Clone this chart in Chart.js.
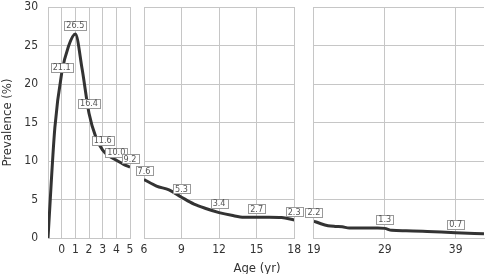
<!DOCTYPE html>
<html>
<head>
<meta charset="utf-8">
<script src="https://cdn.jsdelivr.net/npm/chart.js@4"></script>
<style>
  body { margin: 0; background: #fff; }
  #wrap { position: relative; width: 489px; height: 274px; overflow: hidden; }
  canvas { position: absolute; top: 0; }
  #xtitle { position: absolute; left: 207px; top: 260px; width: 100px; text-align: center;
    font: 13px "Liberation Sans Narrow", "Arial Narrow", "DejaVu Sans Condensed", sans-serif; color: #333; line-height: 15px; }
</style>
</head>
<body>
<div id="wrap">
  <canvas id="c1" width="140" height="274" style="left:0px"></canvas>
  <canvas id="c2" width="172" height="274" style="left:134px"></canvas>
  <canvas id="c3" width="187" height="274" style="left:302px"></canvas>
  <div id="xtitle">Age (yr)</div>
</div>
<script>
// curve, 0-5 yr panel
const ageA = [-1, -0.5, 0, 0.5, 1, 1.5, 2, 2.5, 3, 3.5, 4, 4.5, 5];
const prevA = [0, 14.3, 21.4, 24.9, 26.5, 21.9, 16.2, 13.1, 11.4, 10.6, 10.1, 9.6, 9.2];
// curve, 6-18 yr panel
const ageB = [6, 7, 8, 9, 10, 11, 12, 13, 14, 15, 16, 17, 18];
const prevB = [7.6, 6.75, 6.25, 5.3, 4.4, 3.8, 3.3, 2.95, 2.7, 2.7, 2.7, 2.65, 2.35];
// curve, 19+ yr panel
const ageC = [19, 20, 21, 22, 23, 24, 26, 28, 29, 30, 32, 35, 39, 43];
const prevC = [2.2, 1.85, 1.6, 1.5, 1.45, 1.3, 1.3, 1.3, 1.25, 1.0, 0.95, 0.85, 0.68, 0.55];

// boxed labels
const labAgeA = [0, 1, 2, 3, 4, 5];
const labValA = [21.1, 26.5, 16.4, 11.6, 10.0, 9.2];
const labAgeB = [6, 9, 12, 15, 18];
const labValB = [7.6, 5.3, 3.4, 2.7, 2.3];
const labAgeC = [19, 29, 39];
const labValC = [2.2, 1.3, 0.7];

// x ticks
const ticksA = [-1, 0, 1, 2, 3, 4, 5];
const ticksB = [6, 9, 12, 15, 18];
const ticksC = [19, 29, 39];

const yTicks = [0, 5, 10, 15, 20, 25, 30];

const FONT = '"Liberation Sans Narrow", "Arial Narrow", "DejaVu Sans Condensed", sans-serif';
const GRID = '#c6c6c6';

function boxes(ages, vals) {
    return {
        id: 'boxes',
        afterDatasetsDraw(chart) {
            const ctx = chart.ctx;
            const x = chart.scales.x, y = chart.scales.y;
            ctx.save();
            ctx.font = '9px ' + FONT;
            ctx.textAlign = 'center';
            ctx.textBaseline = 'middle';
            ages.forEach((a, i) => {
                const px = x.getPixelForValue(a);
                const py = y.getPixelForValue(vals[i]) - 8.5;
                const t = vals[i].toFixed(1);
                const w = ctx.measureText(t).width + 4;
                const h = 9;
                ctx.fillStyle = '#fff';
                ctx.fillRect(Math.round(px - w / 2) + 0.5, Math.round(py - h / 2) + 0.5, Math.round(w), h);
                ctx.strokeStyle = '#9a9a9a';
                ctx.lineWidth = 1;
                ctx.strokeRect(Math.round(px - w / 2) + 0.5, Math.round(py - h / 2) + 0.5, Math.round(w), h);
                ctx.fillStyle = '#555';
                ctx.fillText(t, px, py + 0.5);
            });
            ctx.restore();
        }
    };
}

function makeChart(id, ages, prev, xmin, xmax, xticks, hideFirst, showY, padding, labAges, labVals) {
    return new Chart(id, {
        type: 'line',
        data: {
            datasets: [{
                data: ages.map((a, i) => ({ x: a, y: prev[i] })),
                borderColor: '#333',
                borderWidth: 3,
                pointRadius: 0,
                cubicInterpolationMode: 'monotone',
                fill: false
            }]
        },
        options: {
            responsive: false,
            animation: false,
            devicePixelRatio: 1,
            layout: { padding: padding },
            plugins: { legend: { display: false }, tooltip: { enabled: false } },
            scales: {
                x: {
                    type: 'linear',
                    min: xmin,
                    max: xmax,
                    afterBuildTicks: s => { s.ticks = xticks.map(v => ({ value: v })); },
                    afterFit: s => { s.height = 36; },
                    grid: { color: GRID, drawTicks: false },
                    border: { color: GRID },
                    ticks: {
                        padding: 5,
                        color: '#333',
                        font: { family: FONT, size: 12 },
                        maxRotation: 0,
                        autoSkip: false,
                        callback: v => (hideFirst && v === xmin) ? '' : String(v)
                    }
                },
                y: {
                    min: 0,
                    max: 30,
                    afterBuildTicks: s => { s.ticks = yTicks.map(v => ({ value: v })); },
                    afterFit: s => {
                        s.width = showY ? 48 : 0;
                        s.paddingTop = 0;
                        s.paddingBottom = 0;
                    },
                    grid: { color: GRID, drawTicks: false },
                    border: { display: showY, color: GRID },
                    ticks: {
                        display: showY,
                        padding: 10,
                        color: '#333',
                        font: { family: FONT, size: 12 }
                    },
                    title: {
                        display: showY,
                        text: 'Prevalence (%)',
                        color: '#333',
                        padding: 0,
                        font: { family: FONT, size: 13 }
                    }
                }
            }
        },
        plugins: [boxes(labAges, labVals)]
    });
}

makeChart('c1', ageA, prevA, -1, 5, ticksA, true, true, { top: 7, right: 10, left: 0, bottom: 0 }, labAgeA, labValA);
makeChart('c2', ageB, prevB, 6, 18, ticksB, false, false, { top: 7, right: 10, left: 10, bottom: 0 }, labAgeB, labValB);
makeChart('c3', ageC, prevC, 19, 43, ticksC, false, false, { top: 7, right: 5, left: 10, bottom: 0 }, labAgeC, labValC);
</script>
</body>
</html>
